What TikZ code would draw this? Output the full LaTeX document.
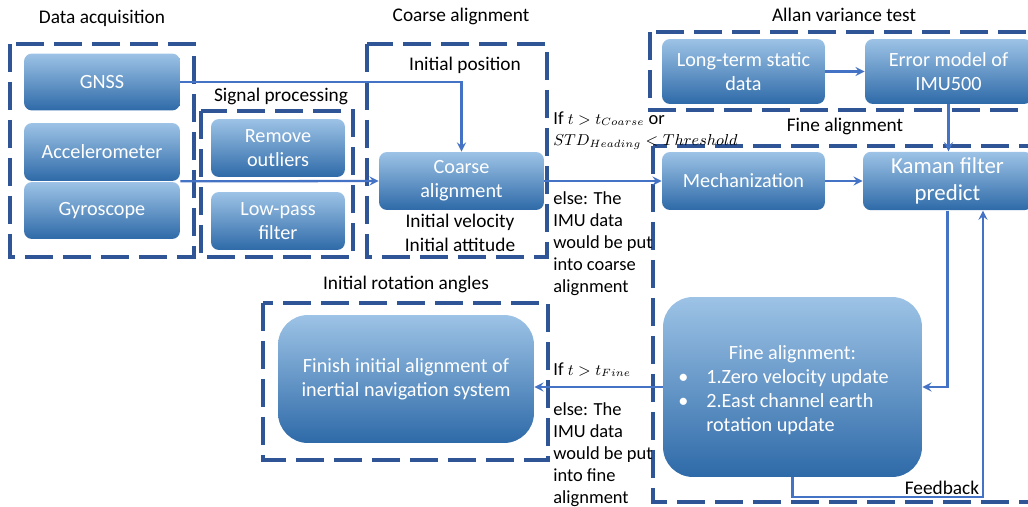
\documentclass[tikz,border=0pt]{standalone}
\usepackage{fontspec}
\setmainfont{Carlito}

\definecolor{grpblue}{HTML}{2F5597}
\definecolor{lineblue}{HTML}{4472C4}
\definecolor{boxtop}{HTML}{9DC3E6}
\definecolor{boxbot}{HTML}{2E6AA8}

\tikzset{
    grp/.style={draw=grpblue, line width=2.2pt, dash pattern=on 0.56cm off 0.2cm},
    blk/.style={rounded corners=0.16cm, top color=boxtop, bottom color=boxbot,
        text=white, align=center, font=\fontsize{11.5}{13.6}\selectfont},
    bigblk/.style={blk, rounded corners=0.6cm},
    ttl/.style={font=\fontsize{11}{13.6}\selectfont, align=center},
    note/.style={font=\fontsize{10.5}{12.5}\selectfont, align=left, inner sep=0pt, anchor=north west},
    arr/.style={->, draw=lineblue, line width=1.3pt},
}
% smaller maths in the decision notes
\newcommand{\cond}[1]{{\fontsize{8.8}{12.5}\selectfont$#1$}}

\begin{document}
\begin{tikzpicture}[x=0.02cm, y=-0.02cm, >=stealth]
    \useasboundingbox (0,0) rectangle (1028,507);

    % dashed groups
    \draw[grp] (10,44) rectangle (194,257);
    \draw[grp] (201,111) rectangle (353,257);
    \draw[grp] (367,44) rectangle (547,257);
    \draw[grp] (650,32) rectangle (1045,110);
    \draw[grp] (653,146) rectangle (1045,502);
    \draw[grp] (263,303) rectangle (548,460);

    \node[ttl] (tacq) at (102,18) {Data acquisition};
    \node[ttl] (tsig) at (281,96) {Signal processing};
    \node[ttl] (tcoarse) at (461,16) {Coarse alignment};
    \node[ttl] (tpos) at (465,65) {Initial position};
    \node[ttl] (tallan) at (844,15) {Allan variance test};
    \node[ttl] (tfine) at (845,126) {Fine alignment};
    \node[ttl] (trot) at (406,284) {Initial rotation angles};

    % sensors
    \node[blk, minimum width=3.12cm, minimum height=1.14cm] (gnss) at (102,82) {GNSS};
    \node[blk, minimum width=3.12cm, minimum height=1.16cm] (acc) at (102,152) {Accelerometer};
    \node[blk, minimum width=3.12cm, minimum height=1.14cm] (gyro) at (102,210.5) {Gyroscope};

    \node[blk, minimum width=2.68cm, minimum height=1.16cm] (outl) at (278,148) {Remove\\outliers};
    \node[blk, minimum width=2.68cm, minimum height=1.16cm] (lpf) at (278,221) {Low-pass\\filter};

    \node[blk, minimum width=3.3cm, minimum height=1.16cm] (coarse) at (461.5,181) {Coarse\\alignment};
    \node[ttl] (vel) at (460,233) {Initial velocity\\Initial attitude};

    % allan variance and fine alignment
    \node[blk, minimum width=3.26cm, minimum height=1.3cm] (lts) at (743.5,71.5) {Long-term static\\data};
    \node[blk, minimum width=3.34cm, minimum height=1.3cm] (errm) at (948.5,71.5) {Error model of\\IMU500};
    \node[blk, minimum width=3.26cm, minimum height=1.16cm] (mech) at (743.5,181) {Mechanization};
    \node[blk, minimum width=3.38cm, minimum height=1.16cm, font=\fontsize{13}{15.5}\selectfont] (kf) at (947.5,181) {Kaman filter\\predict};

    \node[bigblk, minimum width=5.18cm, minimum height=3.6cm] (fine) at (792.5,387)
        {\rule{0pt}{0.48cm}Fine alignment:\\
         \begin{tabular}[t]{@{}l@{\hspace{0.36cm}}l@{}}
         \textbullet & 1.Zero velocity update\\
         \textbullet & 2.East channel earth\\
                     & rotation update
         \end{tabular}\hspace*{0.36cm}};
    \node[bigblk, minimum width=5.12cm, minimum height=2.56cm] (finish) at (406,379)
        {Finish initial alignment of\\inertial navigation system};

    % decision notes
    \node[note] (ifc) at (553,111) {If \cond{t>t_{Coarse}} or\\\cond{STD_{Heading}<Threshold}};
    \node[note] (elc) at (553,191) {else: The\\IMU data\\would be put\\into coarse\\alignment};
    \node[note] (iff) at (553,362) {If \cond{t>t_{Fine}}};
    \node[note] (elf) at (553,402) {else: The\\IMU data\\would be put\\into fine\\alignment};

    % connections
    \draw[arr] (gnss.east) -| (coarse.north);
    \draw[arr] (acc.south east) -- (coarse.west);
    \draw[arr] (coarse.east) -- (mech.west);
    \draw[arr] (mech.east) -- (kf.west);
    \draw[arr] (lts.east) -- (errm.west);
    \draw[arr] (errm.south) -- (errm.south |- kf.north);
    \draw[arr] (kf.south) |- (fine.east);
    \draw[arr] (fine.west) -- (fine.west -| finish.east);

    \coordinate (fb) at (983,497);
    \draw[arr] (fine.south) |- (fb) -- (fb |- kf.south);
    \node[ttl] (tfb) at (942,488) {Feedback};
\end{tikzpicture}
\end{document}
